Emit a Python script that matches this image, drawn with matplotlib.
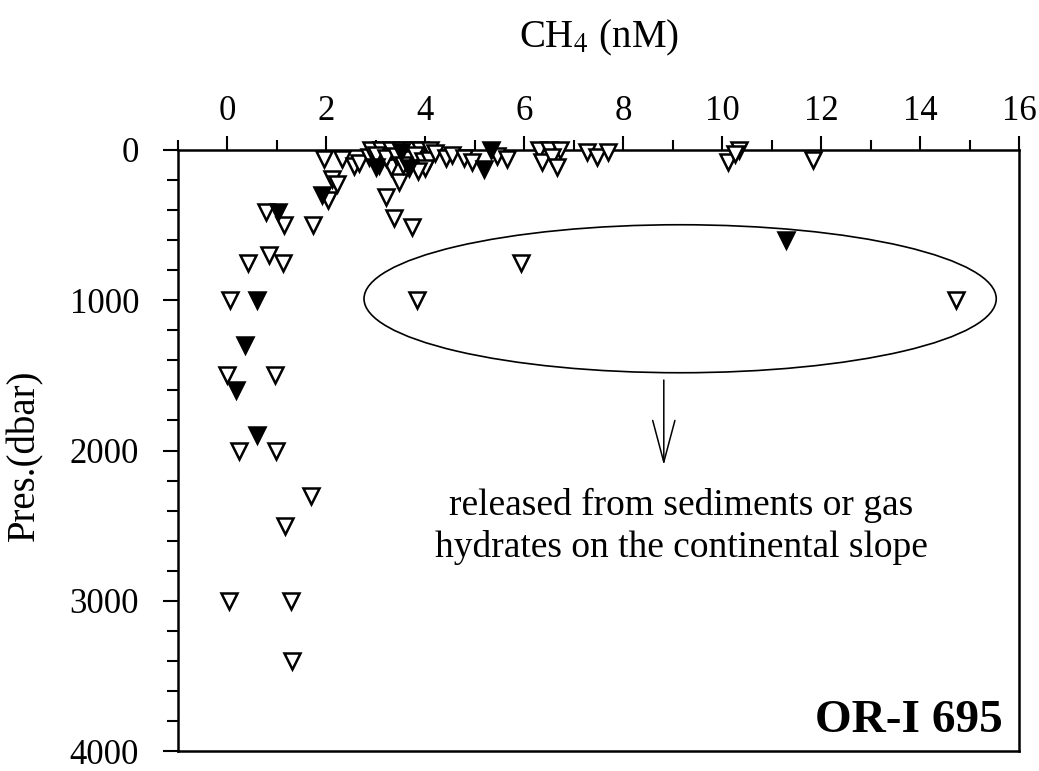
import matplotlib
matplotlib.use("Agg")
import matplotlib.pyplot as plt
from matplotlib.patches import Ellipse

# CH4 (nM) e pressao (dbar) - simbolos abertos
ch4_aberto = [0.24, 0.99, 1.69, 1.17, 0.04, 1.28, 1.30,
              0.78, 1.15, 1.73, 0.83, 0.42, 1.13, 0.06, 0.00, 0.97,
              1.96, 2.32, 2.56, 2.66, 2.86, 2.12, 2.22, 2.04, 3.21, 3.47, 3.37, 3.72,
              3.06, 3.30,
              2.90, 3.10, 3.30, 3.50, 3.70, 3.90, 4.10, 3.00, 3.20, 3.40, 3.60, 3.80,
              3.95, 4.07, 4.00, 3.55, 3.85, 4.20, 4.41, 4.54, 4.78, 4.95, 5.45, 5.65,
              6.29, 6.49, 6.73, 6.36, 6.56, 6.66, 7.26, 7.47, 7.69,
              10.12, 10.34, 10.25, 11.83,
              3.83, 5.93, 14.72]
pres_aberto = [2000, 2000, 2300, 2500, 3000, 3000, 3400,
               410, 500, 500, 700, 750, 750, 1000, 1500, 1500,
               60, 60, 105, 88, 44, 190, 228, 330, 310, 210, 450, 510,
               100, 110,
               0, 0, 0, 0, 0, 0, 0, 30, 50, 40, 60, 30,
               70, 66, 122, 100, 140, 20, 55, 33, 55, 78, 38, 60,
               0, 0, 0, 78, 44, 111, 10, 45, 10,
               78, 0, 25, 66,
               1000, 750, 1000]

# simbolos cheios
ch4_cheio = [1.03, 0.60, 0.35, 0.17, 0.59, 1.92, 5.32, 5.18, 3.67,
             3.00, 3.50, 11.29]
pres_cheio = [410, 1000, 1300, 1600, 1900, 300, 0, 125, 120,
              111, 10, 600]

fonte = "Liberation Serif"
plt.rcParams["font.family"] = fonte
plt.rcParams["mathtext.fontset"] = "stix"

fig = plt.figure(figsize=(10.39, 7.71), dpi=100)
ax = fig.add_axes([178 / 1039, 1 - 751 / 771, (1019 - 178) / 1039, (751 - 150) / 771])

ax.plot(ch4_aberto, pres_aberto, "v", ms=11, mfc="white", mec="black",
        mew=1.8, linestyle="none", clip_on=False, zorder=3)
ax.plot(ch4_cheio, pres_cheio, "v", ms=11, mfc="black", mec="black",
        mew=1.8, linestyle="none", clip_on=False, zorder=4)

ax.set_xlim(-1, 16)
ax.set_ylim(4000, 0)

ax.xaxis.set_ticks_position("top")
ax.xaxis.set_label_position("top")
ax.set_xticks(range(0, 17, 2))
ax.set_xticks(range(-1, 17), minor=True)
ax.set_yticks(range(0, 4001, 1000))
ax.set_yticks(range(0, 4001, 200), minor=True)

ax.tick_params(axis="x", which="major", length=10, width=1.5, labelsize=25, pad=6)
ax.tick_params(axis="x", which="minor", length=7, width=1.5)
ax.tick_params(axis="y", which="major", length=11, width=1.5, labelsize=25, pad=17)
ax.tick_params(axis="y", which="minor", length=8, width=1.5)
for s in ax.spines.values():
    s.set_linewidth(1.8)

ax.set_xlabel(r"CH$_4$ (nM)", fontsize=28, labelpad=34)
fig.text(25 / 1039, 1 - 455 / 771, "Pres.(dbar)", rotation=90, fontsize=28,
         ha="center", va="center")

# elipse e seta
ax.add_patch(Ellipse((9.15, 990), 12.78, 985, fill=False, lw=1.2, ec="black"))
ax.annotate("", xy=(8.82, 2097), xytext=(8.82, 1531),
            arrowprops=dict(arrowstyle="->,head_length=3.0,head_width=0.8",
                            lw=1.1, color="black", shrinkA=0, shrinkB=0,
                            mutation_scale=10))

ax.text(9.17, 2430, "released from sediments or gas", fontsize=27,
        ha="center", va="baseline")
ax.text(9.17, 2710, "hydrates on the continental slope", fontsize=27,
        ha="center", va="baseline")

ax.text(15.68, 3873, "OR-I 695", fontsize=34, fontweight="bold",
        ha="right", va="baseline")

fig.savefig("out.png", dpi=100)
